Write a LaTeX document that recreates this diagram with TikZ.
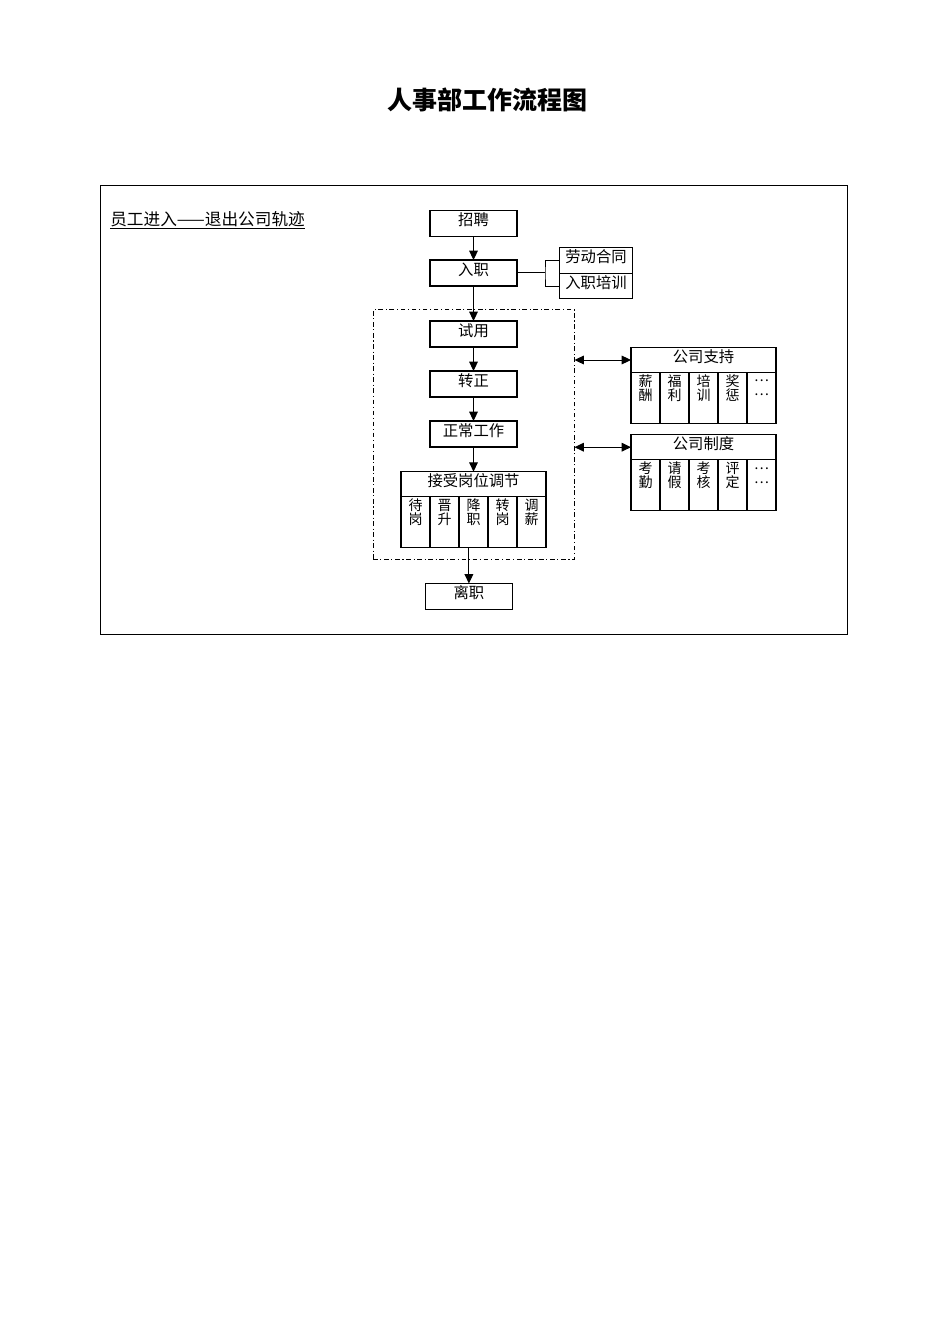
\documentclass[tikz,border=0pt]{standalone}
\usepackage{fontspec}
\setmainfont{Noto Sans CJK SC}
\usetikzlibrary{arrows.meta}
\newcommand{\dotrow}{\vphantom{薪}\raisebox{0.33em}{…}}

\begin{document}
\begin{tikzpicture}[x=0.75pt,y=0.75pt,yscale=-1,xscale=1,
    box/.style={draw, line width=0.8pt, outer sep=0pt, inner sep=0pt, minimum width=65.25pt, minimum height=19.5pt, font=\fontsize{11.5pt}{12pt}\selectfont, text height=8pt, text depth=4.5pt},
    head/.style={box, minimum width=108.75pt, minimum height=18.75pt},
    cell/.style={draw, line width=0.8pt, outer sep=0pt, inner sep=0pt, minimum width=21.75pt, minimum height=38pt, anchor=north west},
    celltxt/.style={anchor=north, inner sep=1.5pt, align=center, font=\fontsize{10.5pt}{10.5pt}\selectfont},
    flow/.style={-{Triangle[length=7pt,width=6.5pt]}, line width=0.75pt},
    both/.style={{Triangle[length=7pt,width=6.5pt]}-{Triangle[length=7pt,width=6.5pt]}, line width=0.75pt}]

    \useasboundingbox (0,0) rectangle (950,1344);

    % title and frame
    \node[font=\fontsize{18.75pt}{20pt}\selectfont\bfseries] (title) at (487,100) {人事部工作流程图};
    \draw[line width=0.75pt] (100,186) rectangle (847,634);
    \node[anchor=base west, inner sep=0pt, font=\fontsize{12.5pt}{13pt}\selectfont] (track) at (110,225.5) {\underline{员工进入——退出公司轨迹}};

    % dash-dot area
    \node[draw, line width=0.75pt, outer sep=0pt, dash pattern=on 3.5pt off 2pt on 0.8pt off 2pt, minimum width=151.1pt, minimum height=186.75pt] (adj) at (473.75,434.5) {};

    % main flow
    \node[box] (zp) at (473.5,223.5) {招聘};
    \node[box] (rz) at (473.5,273) {入职};
    \node[box, minimum width=55.3pt, minimum height=19.2pt] (ldht) at (596,260.5) {劳动合同};
    \node[box, minimum width=55.3pt, minimum height=19.2pt] (rzpx) at (596,286.1) {入职培训};
    \node[box] (sy) at (473.5,334) {试用};
    \node[box] (zz) at (473.5,384) {转正};
    \node[box] (zcgz) at (473.5,434) {正常工作};
    \node[head] (jsgw) at (473.5,484.2) {接受岗位调节};
    \foreach \t [count=\i] in {待\\岗,晋\\升,降\\职,转\\岗,调\\薪}{
        \node[cell] (gw\i) at ({401+(\i-1)*29},496.7) {};
        \node[celltxt] (gwt\i) at (gw\i.north) {\t};
    }
    \node[box] (lz) at (468.9,596.5) {离职};

    % company side
    \node[head] (gszc) at (703.5,360) {公司支持};
    \foreach \t [count=\i] in {薪\\酬,福\\利,培\\训,奖\\惩,\dotrow\\\dotrow}{
        \node[cell] (zc\i) at ({631+(\i-1)*29},372.5) {};
        \node[celltxt] (zct\i) at (zc\i.north) {\t};
    }
    \node[head] (gszd) at (703.5,447.2) {公司制度};
    \foreach \t [count=\i] in {考\\勤,请\\假,考\\核,评\\定,\dotrow\\\dotrow}{
        \node[cell] (zd\i) at ({631+(\i-1)*29},459.7) {};
        \node[celltxt] (zdt\i) at (zd\i.north) {\t};
    }

    % connectors
    \draw[flow] (zp) -- (rz);
    \draw[flow] (rz) -- (sy);
    \draw[flow] (sy) -- (zz);
    \draw[flow] (zz) -- (zcgz);
    \draw[flow] (zcgz) -- (jsgw);
    \draw[flow] (lz |- gw3.south) -- (lz);
    \draw[line width=0.75pt] (rz.east) -- ++(28,0) coordinate (brk);
    \draw[line width=0.75pt] (ldht.west) -| (brk) |- (rzpx.west);
    \draw[both] (gszc.west -| adj.east) -- (gszc.west);
    \draw[both] (gszd.west -| adj.east) -- (gszd.west);

\end{tikzpicture}
\end{document}
